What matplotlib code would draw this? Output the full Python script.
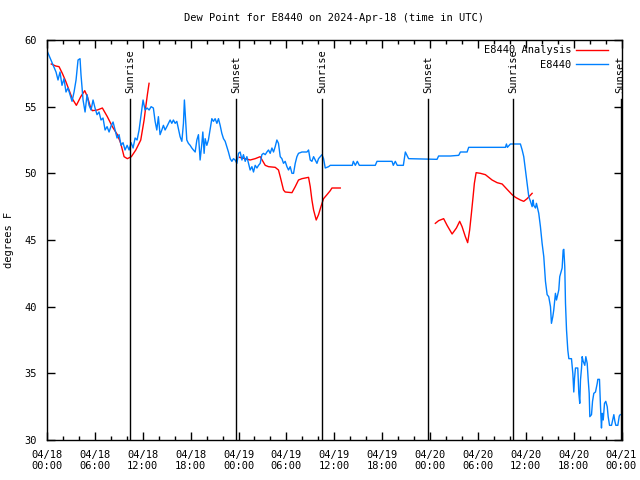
import numpy as np
import pandas as pd
import matplotlib
matplotlib.use("Agg")
import matplotlib.pyplot as plt
import matplotlib.dates as mdates

# ---------------- data ----------------
start = pd.Timestamp("2024-04-18 00:00")

obs_hours = [0.0, 0.63, 1.13, 1.38, 1.63, 1.88, 2.13, 2.38, 2.63, 2.89, 3.14, 3.39, 3.64, 3.76, 3.89, 4.14,
             4.26, 4.52, 4.77, 5.02, 5.27, 5.52, 5.77, 6.02, 6.27, 6.52, 6.77, 7.02, 7.28, 7.53, 7.78, 8.03,
             8.28, 8.53, 8.78, 9.03, 9.28, 9.53, 9.78, 10.04, 10.29, 10.54, 10.79, 11.04, 11.29, 11.54, 11.79,
             12.04, 12.29, 12.54, 12.80, 13.05, 13.33, 13.55, 13.76, 13.96, 14.17, 14.39, 14.59, 14.80, 15.02,
             15.22, 15.43, 15.64, 15.84, 16.06, 16.27, 16.68, 16.90, 17.10, 17.22, 17.40, 17.52, 17.72, 17.94,
             18.15, 18.35, 18.57, 18.78, 18.98, 19.19, 19.41, 19.53, 19.69, 19.82, 20.03, 20.23, 20.66, 20.86,
             21.07, 21.29, 21.49, 21.70, 21.91, 22.12, 22.33, 22.54, 22.74, 22.96, 23.17, 23.37, 23.58, 23.80,
             24.00, 24.21, 24.43, 24.62, 24.84, 25.05, 25.25, 25.46, 25.68, 25.88, 26.09, 26.31, 26.51, 26.72,
             26.93, 27.13, 27.35, 27.56, 27.76, 27.97, 28.19, 28.39, 28.60, 28.81, 29.01, 29.23, 29.44, 29.64,
             29.85, 30.07, 30.27, 30.48, 30.70, 30.90, 31.11, 31.32, 31.52, 31.95, 32.58, 32.78, 32.99, 33.20,
             33.41, 33.83, 34.03, 34.46, 34.66, 34.87, 35.29, 35.50, 38.26, 38.39, 38.64, 38.89, 39.14, 41.14,
             41.36, 43.24, 43.40, 43.65, 43.90, 44.66, 44.91, 45.32, 48.88, 49.08, 50.55, 51.60, 51.81, 52.65,
             52.85, 57.45, 57.58, 57.70, 58.08, 59.33, 59.55, 59.75, 59.96, 60.17, 60.38, 60.59, 60.80, 60.93,
             61.00, 61.22, 61.34, 61.63, 61.84, 62.05, 62.26, 62.47, 62.68, 62.88, 63.10, 63.22, 63.39, 63.51,
             63.72, 63.85, 64.14, 64.26, 64.56, 64.69, 64.77, 64.89, 64.98, 65.11, 65.27, 65.40, 65.73, 65.90,
             66.02, 66.11, 66.23, 66.52, 66.65, 66.77, 66.86, 66.99, 67.07, 67.20, 67.40, 67.53, 67.70, 67.83,
             67.95, 68.03, 68.24, 68.37, 68.53, 68.74, 68.96, 69.03, 69.24, 69.37, 69.49, 69.58, 69.71, 69.87,
             70.03, 70.21, 70.33, 70.50, 70.75, 71.04, 71.17, 71.29, 71.54, 71.72, 71.84]
obs_values = [59.2, 58.3, 57.6, 57.0, 57.6, 56.6, 57.1, 56.1, 56.4, 55.9, 55.4, 56.1, 57.0, 57.7, 58.5, 58.6,
              57.4, 55.5, 54.6, 55.9, 55.1, 54.75, 55.5, 54.9, 54.4, 54.6, 54.0, 54.15, 53.25, 53.5, 53.1, 53.55,
              53.85, 53.25, 52.65, 52.9, 52.1, 52.3, 51.75, 52.1, 51.75, 52.3, 51.9, 52.65, 52.5, 53.25, 54.4,
              55.5, 54.75, 54.9, 54.75, 55.0, 54.9, 53.9, 53.25, 54.25, 52.9, 53.25, 53.6, 53.25, 53.5,
              53.75, 54.0, 53.75, 54.0, 53.75, 53.9, 52.75, 52.4, 53.75, 55.5, 53.75, 52.5, 52.25, 52.1,
              51.9, 51.75, 51.6, 52.5, 52.9, 51.0, 52.25, 53.1, 51.5, 52.6, 52.1, 52.5, 54.1, 53.9,
              54.1, 53.75, 54.1, 53.6, 53.0, 52.6, 52.4, 52.0, 51.6, 51.1, 50.9, 51.1, 51.0, 50.75,
              51.5, 51.6, 51.0, 51.4, 50.9, 51.25, 50.75, 50.25, 50.5, 50.1, 50.6, 50.4, 50.6, 50.75,
              51.4, 51.5, 51.4, 51.6, 51.75, 51.5, 51.9, 51.6, 52.0, 52.5, 52.25, 51.25, 51.1, 50.75,
              50.9, 50.5, 50.25, 50.5, 50.0, 50.0, 50.75, 51.25, 51.5, 51.6, 51.6, 51.75, 51.0, 50.9,
              51.25, 50.75, 51.1, 51.4, 51.1, 50.4, 50.5, 50.6, 50.6, 50.9, 50.6, 50.9, 50.6, 50.6,
              50.9, 50.9, 50.6, 50.9, 50.6, 50.6, 51.6, 51.1, 51.05, 51.3, 51.3, 51.35, 51.6, 51.6,
              51.95, 51.95, 52.2, 51.95, 52.2, 52.2, 51.75, 51.25, 50.25, 49.25, 48.25, 47.9, 47.5, 48.0,
              47.6, 47.4, 47.75, 47.0, 46.0, 44.75, 43.75, 41.9, 40.9, 40.75, 40.0, 38.75, 39.25, 39.75,
              41.0, 40.5, 41.25, 42.25, 42.9, 44.25, 44.3, 43.0, 40.25, 38.25, 36.75, 36.1, 36.1, 35.0,
              33.6, 34.6, 35.4, 35.4, 33.5, 32.75, 34.5, 35.4, 36.25, 35.9, 35.6, 36.25, 35.75, 34.5,
              33.5, 31.75, 31.9, 32.9, 33.5, 33.6, 34.25, 34.55, 34.55, 32.5, 30.9, 32.0, 31.5, 32.75,
              32.9, 32.5, 31.75, 31.1, 31.1, 31.9, 31.4, 31.1, 31.1, 31.8, 31.9]

ana_hours = [0.54, 1.09, 1.51, 1.92, 2.35, 2.76, 3.17, 3.68, 4.23, 4.73, 5.06, 5.48, 5.68, 6.31, 6.94, 7.56,
             8.19, 8.82, 9.24, 9.66, 10.07, 10.57, 11.13, 11.75, 12.17, 12.38, 12.58, 12.79,
             np.nan,
             24.12, 24.84, 25.46, 26.09, 26.72, 27.35, 27.76, 28.60, 29.01, 29.23, 29.64, 29.85, 30.70, 31.11,
             31.52, 31.95, 32.78, 32.99, 33.20, 33.41, 33.74, 34.03, 34.33, 34.66, 35.09, 35.50, 35.71, 36.75,
             np.nan,
             48.67, 49.08, 49.71, 50.14, 50.77, 51.31, 51.72, 52.02, 52.43, 52.72, 52.97, 53.19, 53.40, 53.56,
             53.78, 54.32, 54.94, 55.36, 55.78, 56.41, 57.04, 57.66, 58.29, 58.71, 59.33, 59.75, 60.17, 60.80]
ana_values = [58.2, 58.05, 58.0, 57.5, 56.9, 56.25, 55.6, 55.1, 55.75, 56.2, 55.75, 54.9, 54.7, 54.75, 54.9, 54.25,
              53.5, 52.9, 52.25, 51.25, 51.1, 51.25, 51.75, 52.5, 54.0, 55.0, 55.9, 56.75,
              np.nan,
              51.2, 51.1, 51.0, 51.1, 51.25, 50.6, 50.5, 50.45, 50.25, 49.75, 48.75, 48.6, 48.55, 49.0,
              49.5, 49.6, 49.7, 49.0, 48.0, 47.25, 46.5, 46.9, 47.5, 48.1, 48.4, 48.7, 48.9, 48.9,
              np.nan,
              46.25, 46.45, 46.6, 46.1, 45.45, 45.9, 46.4, 46.0, 45.25, 44.8, 45.75, 47.0, 48.25, 49.25,
              50.05, 50.0, 49.9, 49.7, 49.5, 49.3, 49.2, 48.8, 48.4, 48.2, 48.0, 47.9, 48.1, 48.5]

sun_hours = [10.41, 23.71, 34.50, 47.79, 58.46, 71.90]
sun_labels = ["Sunrise", "Sunset", "Sunrise", "Sunset", "Sunrise", "Sunset"]

title = "Dew Point for E8440 on 2024-Apr-18 (time in UTC)"
ylabel = "degrees F"
ana_name = "E8440 Analysis"
obs_name = "E8440"

# ---------------- plot ----------------
plt.rcParams['font.family'] = ['DejaVu Sans Mono']
FS = 7.5

def to_time(h):
    return [start + pd.Timedelta(hours=float(v)) if not np.isnan(v) else pd.NaT for v in h]

fig = plt.figure(figsize=(6.4, 4.8), dpi=100)
ax = fig.add_axes([47/640, 40/480, (621.5-47)/640, 400/480])

t_ana = pd.to_datetime(pd.Series(to_time(ana_hours)))
t_obs = pd.to_datetime(pd.Series(to_time(obs_hours)))

ax.plot(t_ana, ana_values, color="#ff0000", lw=1.0, label=ana_name)
ax.plot(t_obs, obs_values, color="#0080ff", lw=1.0, label=obs_name)

for h, lab in zip(sun_hours, sun_labels):
    t = start + pd.Timedelta(hours=h)
    ax.plot([t, t], [30, 55.6], color="black", lw=1.0)
    ax.text(t, 56.0, lab, rotation=90, ha="center", va="bottom", fontsize=FS)

ax.set_xlim(start, start + pd.Timedelta(hours=72))
ax.set_ylim(30, 60)
ax.xaxis.set_major_locator(mdates.HourLocator(byhour=[0, 6, 12, 18]))
ax.xaxis.set_minor_locator(mdates.HourLocator(byhour=range(0, 24, 2)))
ax.xaxis.set_major_formatter(mdates.DateFormatter("%m/%d\n%H:%M"))
ax.set_yticks(np.arange(30, 61, 5))

ax.tick_params(which="both", direction="in", top=True, right=True, labelsize=FS, width=1)
ax.tick_params(which="major", length=6, pad=7)
ax.tick_params(which="minor", length=3)
for s in ax.spines.values():
    s.set_linewidth(1.0)

ax.set_title(title, fontsize=FS, pad=14)
ax.set_ylabel(ylabel, fontsize=FS, labelpad=8)

leg = ax.legend(loc="upper right", frameon=False, markerfirst=False, fontsize=FS,
                handlelength=3.0, borderaxespad=0.1, labelspacing=0.45, handletextpad=0.5,
                bbox_to_anchor=(0.985, 1.0))

fig.savefig("out.png", dpi=100)
